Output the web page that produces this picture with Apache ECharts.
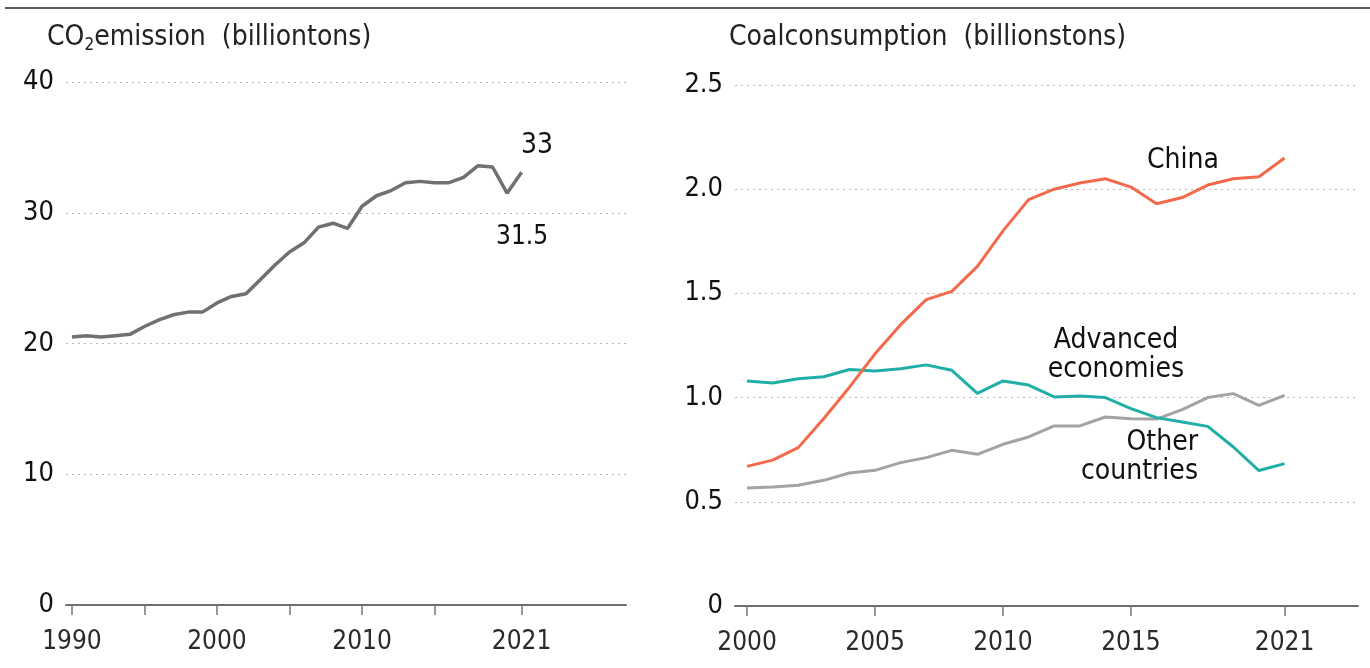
<!DOCTYPE html>
<html>
<head>
<meta charset="utf-8">
<script src="https://cdn.jsdelivr.net/npm/echarts@6/dist/echarts.min.js"></script>
<style>
html,body{margin:0;padding:0;background:#fff;}
#chart{width:1370px;height:668px;}
</style>
</head>
<body>
<div id="chart"></div>
<script>
// ---- Data ----
var co2Years = [1990,1991,1992,1993,1994,1995,1996,1997,1998,1999,2000,2001,2002,2003,2004,2005,2006,2007,2008,2009,2010,2011,2012,2013,2014,2015,2016,2017,2018,2019,2020,2021];
var co2Values = [20.5,20.6,20.5,20.6,20.7,21.3,21.8,22.2,22.4,22.4,23.1,23.6,23.8,24.9,26.0,27.0,27.7,28.9,29.2,28.8,30.5,31.3,31.7,32.3,32.4,32.3,32.3,32.7,33.6,33.5,31.5,33.1];
var co2TickYears = [1990,1995,2000,2005,2010,2015,2021];
var co2LabelYears = [1990,2000,2010,2021];

var coalYears = [2000,2001,2002,2003,2004,2005,2006,2007,2008,2009,2010,2011,2012,2013,2014,2015,2016,2017,2018,2019,2020,2021];
var chinaValues = [0.67,0.70,0.76,0.90,1.05,1.21,1.35,1.47,1.51,1.63,1.80,1.95,2.00,2.03,2.05,2.01,1.93,1.96,2.02,2.05,2.06,2.15];
var advancedValues = [1.08,1.07,1.09,1.10,1.135,1.128,1.138,1.157,1.131,1.02,1.08,1.06,1.003,1.008,1.0,0.947,0.904,0.883,0.862,0.763,0.65,0.683];
var otherValues = [0.566,0.571,0.579,0.603,0.638,0.651,0.688,0.712,0.747,0.728,0.776,0.811,0.864,0.864,0.907,0.899,0.897,0.942,1.0,1.019,0.963,1.011];
var coalTickYears = [2000,2005,2010,2015,2021];
var coalLabelYears = [2000,2005,2010,2015,2021];

function pairs(xs, ys){ return xs.map(function(x,i){ return [x, ys[i]]; }); }

var FONT = "'Liberation Sans Narrow','DejaVu Sans Condensed','Open Sans',sans-serif";
var chart = echarts.init(document.getElementById('chart'), null, {renderer:'canvas'});

var gridLine = {show:true, lineStyle:{color:'#b8b8b8', type:[2,4], width:1}};
function yearFmt(v){ return String(Math.round(v)); }

var option = {
  backgroundColor:'#ffffff',
  animation:false,
  grid:[
    {left:66, right:744, top:82, height:523, containLabel:false},
    {left:735, right:12, top:85, height:521, containLabel:false}
  ],
  xAxis:[
    {type:'value', gridIndex:0, min:1989.59, max:2028.2,
     axisLine:{show:true, lineStyle:{color:'#6f6f6f', width:2}},
     axisTick:{show:true, customValues:co2TickYears, length:10, lineStyle:{color:'#777', width:1.5}},
     axisLabel:{show:true, customValues:co2LabelYears, formatter:yearFmt, fontFamily:FONT, fontSize:26, color:'#2a2a2a', margin:24},
     splitLine:{show:false}},
    {type:'value', gridIndex:1, min:1999.53, max:2023.87,
     axisLine:{show:true, lineStyle:{color:'#6f6f6f', width:2}},
     axisTick:{show:true, customValues:coalTickYears, length:10, lineStyle:{color:'#777', width:1.5}},
     axisLabel:{show:true, customValues:coalLabelYears, formatter:yearFmt, fontFamily:FONT, fontSize:26, color:'#2a2a2a', margin:24},
     splitLine:{show:false}}
  ],
  yAxis:[
    {type:'value', gridIndex:0, min:0, max:40, interval:10,
     axisLine:{show:false}, axisTick:{show:false},
     axisLabel:{fontFamily:FONT, fontSize:27, color:'#111', margin:12},
     splitLine:gridLine},
    {type:'value', gridIndex:1, min:0, max:2.5, interval:0.5,
     axisLine:{show:false}, axisTick:{show:false},
     axisLabel:{fontFamily:FONT, fontSize:27, color:'#111', margin:12,
       formatter:function(v){ return v===0 ? '0' : v.toFixed(1); }},
     splitLine:gridLine}
  ],
  series:[
    {type:'line', xAxisIndex:0, yAxisIndex:0, data:pairs(co2Years, co2Values),
     showSymbol:false, lineStyle:{color:'#707070', width:3.5}, z:5},
    {type:'line', xAxisIndex:1, yAxisIndex:1, data:pairs(coalYears, otherValues),
     showSymbol:false, lineStyle:{color:'#a3a3a3', width:3}, z:3},
    {type:'line', xAxisIndex:1, yAxisIndex:1, data:pairs(coalYears, advancedValues),
     showSymbol:false, lineStyle:{color:'#20aea6', width:3}, z:4},
    {type:'line', xAxisIndex:1, yAxisIndex:1, data:pairs(coalYears, chinaValues),
     showSymbol:false, lineStyle:{color:'#f26a4b', width:3}, z:5}
  ],
  graphic:[
    {type:'line', shape:{x1:5, y1:8, x2:1370, y2:8}, style:{stroke:'#5a5a5a', lineWidth:2}},
    {type:'text', left:47, top:24, style:{
      text:'{a|CO}{s|2}{a|emission  (billiontons)}',
      rich:{a:{fontFamily:FONT, fontSize:28, fill:'#222'}, s:{fontFamily:FONT, fontSize:17, fill:'#222', padding:[15,0,0,0]}}
    }},
    {type:'text', left:729, top:24, style:{text:'Coalconsumption  (billionstons)', fontFamily:FONT, fontSize:28, fill:'#222'}},
    {type:'text', left:521, top:132, style:{text:'33', fontFamily:FONT, fontSize:28, fill:'#111'}},
    {type:'text', left:496, top:224, style:{text:'31.5', fontFamily:FONT, fontSize:26, fill:'#111'}},
    {type:'text', left:1147, top:147, style:{text:'China', fontFamily:FONT, fontSize:28, fill:'#111'}},
    {type:'text', x:1116, y:326, style:{text:'Advanced\neconomies', fontFamily:FONT, fontSize:28, lineHeight:29, fill:'#111', align:'center', verticalAlign:'top'}},
    {type:'text', x:1198, y:428, style:{text:'Other\ncountries', fontFamily:FONT, fontSize:28, lineHeight:29, fill:'#111', align:'right', verticalAlign:'top'}}
  ]
};
chart.setOption(option);
</script>
</body>
</html>
